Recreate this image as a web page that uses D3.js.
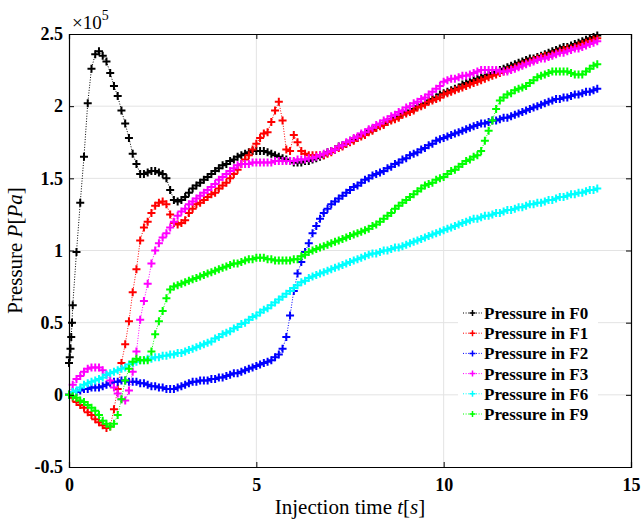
<!DOCTYPE html>
<html>
<head>
<meta charset="utf-8">
<script src="https://cdn.jsdelivr.net/npm/d3@7"></script>
<style>
  body { margin: 0; background: #fff; }
  text { font-family: "Liberation Serif", "DejaVu Serif", serif; }
</style>
</head>
<body>
<div id="chart"></div>
<script>
// sampling step of the simulation output (s)
const timeStep = 0.1;

// pressure values, units of 1e5 Pa, one value every 0.1 s from t = 0 to 14.1 s
const pressF0 = [
  0.22, 0.62, 0.99, 1.33, 1.65, 2.02, 2.26, 2.36, 2.38, 2.35,
  2.31, 2.23, 2.14, 2.07, 1.97, 1.88, 1.78, 1.67, 1.60, 1.53,
  1.53, 1.54, 1.55, 1.55, 1.54, 1.53, 1.50, 1.42, 1.35, 1.34,
  1.35, 1.37, 1.40, 1.43, 1.45, 1.47, 1.49, 1.51, 1.53, 1.55,
  1.57, 1.59, 1.60, 1.62, 1.63, 1.65, 1.66, 1.67, 1.68, 1.69,
  1.69, 1.69, 1.69, 1.68, 1.67, 1.66, 1.65, 1.64, 1.63, 1.62,
  1.61, 1.61, 1.61, 1.62, 1.62, 1.63, 1.64, 1.65, 1.66, 1.68,
  1.69, 1.70, 1.72, 1.73, 1.74, 1.76, 1.77, 1.78, 1.80, 1.81,
  1.83, 1.84, 1.85, 1.87, 1.88, 1.89, 1.91, 1.92, 1.93, 1.95,
  1.96, 1.97, 1.98, 2.00, 2.01, 2.02, 2.04, 2.05, 2.06, 2.08,
  2.09, 2.10, 2.11, 2.12, 2.13, 2.15, 2.16, 2.17, 2.18, 2.19,
  2.20, 2.21, 2.22, 2.23, 2.24, 2.25, 2.26, 2.27, 2.28, 2.29,
  2.30, 2.31, 2.32, 2.33, 2.33, 2.34, 2.35, 2.36, 2.37, 2.38,
  2.39, 2.40, 2.41, 2.41, 2.42, 2.43, 2.44, 2.45, 2.46, 2.47,
  2.48, 2.49
];
// F0 has a few extra samples right at the start [t, value]
const pressF0Start = [[0.02, 0.26], [0.04, 0.32], [0.06, 0.40], [0.08, 0.50]];

const pressF1 = [
  0.00, -0.02, -0.05, -0.07, -0.09, -0.12, -0.14, -0.17, -0.19, -0.21,
  -0.23, -0.22, -0.10, 0.04, 0.22, 0.35, 0.51, 0.71, 0.87, 1.07,
  1.16, 1.20, 1.26, 1.31, 1.33, 1.34, 1.32, 1.25, 1.19, 1.18,
  1.19, 1.21, 1.26, 1.29, 1.32, 1.33, 1.35, 1.37, 1.39, 1.40,
  1.43, 1.45, 1.47, 1.50, 1.53, 1.56, 1.60, 1.63, 1.66, 1.70,
  1.74, 1.78, 1.81, 1.82, 1.89, 1.97, 2.03, 1.90, 1.70, 1.69,
  1.80, 1.75, 1.69, 1.67, 1.66, 1.66, 1.66, 1.66, 1.66, 1.67,
  1.68, 1.70, 1.71, 1.72, 1.74, 1.75, 1.76, 1.78, 1.79, 1.80,
  1.82, 1.83, 1.85, 1.86, 1.87, 1.89, 1.90, 1.91, 1.92, 1.94,
  1.95, 1.96, 1.97, 1.99, 2.00, 2.01, 2.03, 2.04, 2.05, 2.06,
  2.08, 2.09, 2.10, 2.11, 2.12, 2.13, 2.14, 2.15, 2.16, 2.17,
  2.18, 2.19, 2.20, 2.21, 2.22, 2.23, 2.24, 2.25, 2.26, 2.27,
  2.28, 2.29, 2.30, 2.31, 2.32, 2.33, 2.34, 2.35, 2.35, 2.36,
  2.37, 2.38, 2.39, 2.40, 2.40, 2.41, 2.42, 2.43, 2.44, 2.45,
  2.46, 2.47
];

const pressF2 = [
  0.00, 0.02, 0.02, 0.03, 0.04, 0.04, 0.05, 0.05, 0.05, 0.06,
  0.07, 0.08, 0.09, 0.09, 0.10, 0.10, 0.09, 0.09, 0.09, 0.08,
  0.08, 0.07, 0.06, 0.06, 0.05, 0.05, 0.04, 0.04, 0.04, 0.05,
  0.06, 0.07, 0.08, 0.09, 0.09, 0.10, 0.10, 0.10, 0.11, 0.11,
  0.12, 0.12, 0.13, 0.14, 0.15, 0.15, 0.16, 0.17, 0.18, 0.19,
  0.20, 0.21, 0.22, 0.23, 0.24, 0.26, 0.28, 0.32, 0.40, 0.55,
  0.72, 0.84, 0.92, 0.99, 1.05, 1.12, 1.17, 1.22, 1.26, 1.29,
  1.32, 1.34, 1.36, 1.38, 1.40, 1.42, 1.44, 1.45, 1.47, 1.49,
  1.50, 1.52, 1.53, 1.54, 1.55, 1.57, 1.58, 1.60, 1.61, 1.63,
  1.64, 1.66, 1.67, 1.68, 1.70, 1.71, 1.73, 1.74, 1.76, 1.77,
  1.78, 1.79, 1.80, 1.81, 1.82, 1.83, 1.84, 1.85, 1.86, 1.87,
  1.88, 1.88, 1.89, 1.90, 1.90, 1.91, 1.92, 1.92, 1.93, 1.94,
  1.95, 1.96, 1.97, 1.98, 1.99, 2.00, 2.01, 2.02, 2.03, 2.04,
  2.05, 2.05, 2.06, 2.06, 2.07, 2.08, 2.08, 2.09, 2.10, 2.10,
  2.11, 2.12
];

const pressF3 = [
  0.00, 0.07, 0.11, 0.13, 0.16, 0.18, 0.19, 0.19, 0.19, 0.17,
  0.14, 0.10, 0.05, 0.01, -0.03, -0.04, 0.03, 0.16, 0.30, 0.52,
  0.65, 0.77, 0.91, 1.00, 1.05, 1.09, 1.12, 1.16, 1.20, 1.24,
  1.27, 1.29, 1.32, 1.34, 1.36, 1.38, 1.40, 1.42, 1.44, 1.46,
  1.49, 1.51, 1.53, 1.55, 1.57, 1.59, 1.60, 1.60, 1.60, 1.61,
  1.61, 1.61, 1.61, 1.61, 1.61, 1.62, 1.62, 1.62, 1.62, 1.62,
  1.62, 1.63, 1.63, 1.63, 1.64, 1.64, 1.65, 1.66, 1.67, 1.68,
  1.69, 1.70, 1.72, 1.73, 1.75, 1.76, 1.78, 1.79, 1.81, 1.82,
  1.84, 1.85, 1.87, 1.88, 1.90, 1.91, 1.93, 1.94, 1.96, 1.97,
  1.99, 2.00, 2.02, 2.03, 2.05, 2.06, 2.08, 2.10, 2.12, 2.14,
  2.17, 2.18, 2.19, 2.19, 2.20, 2.21, 2.21, 2.22, 2.23, 2.24,
  2.25, 2.25, 2.25, 2.25, 2.25, 2.24, 2.24, 2.24, 2.25, 2.26,
  2.27, 2.28, 2.29, 2.30, 2.31, 2.32, 2.33, 2.33, 2.34, 2.35,
  2.36, 2.37, 2.37, 2.38, 2.39, 2.40, 2.40, 2.41, 2.42, 2.43,
  2.44, 2.45
];

const pressF6 = [
  0.00, 0.02, 0.03, 0.05, 0.07, 0.08, 0.09, 0.10, 0.11, 0.12,
  0.14, 0.15, 0.16, 0.17, 0.18, 0.19, 0.21, 0.22, 0.23, 0.24,
  0.24, 0.25, 0.25, 0.26, 0.26, 0.27, 0.27, 0.28, 0.28, 0.29,
  0.29, 0.30, 0.31, 0.32, 0.33, 0.34, 0.35, 0.36, 0.37, 0.39,
  0.40, 0.42, 0.43, 0.44, 0.46, 0.47, 0.49, 0.50, 0.52, 0.54,
  0.55, 0.57, 0.59, 0.60, 0.62, 0.64, 0.66, 0.68, 0.70, 0.72,
  0.74, 0.76, 0.78, 0.79, 0.81, 0.82, 0.83, 0.84, 0.85, 0.86,
  0.87, 0.88, 0.89, 0.90, 0.91, 0.92, 0.93, 0.94, 0.95, 0.96,
  0.97, 0.98, 0.98, 0.99, 1.00, 1.00, 1.01, 1.02, 1.02, 1.03,
  1.04, 1.05, 1.06, 1.07, 1.08, 1.09, 1.10, 1.11, 1.12, 1.13,
  1.14, 1.15, 1.16, 1.17, 1.18, 1.19, 1.20, 1.21, 1.22, 1.22,
  1.23, 1.24, 1.24, 1.25, 1.26, 1.26, 1.27, 1.28, 1.28, 1.29,
  1.30, 1.30, 1.31, 1.32, 1.32, 1.33, 1.33, 1.34, 1.35, 1.35,
  1.36, 1.37, 1.37, 1.38, 1.39, 1.39, 1.40, 1.40, 1.41, 1.42,
  1.42, 1.43
];

const pressF9 = [
  0.00, -0.01, -0.02, -0.04, -0.05, -0.07, -0.09, -0.11, -0.14, -0.18,
  -0.20, -0.22, -0.20, -0.14, -0.03, 0.10, 0.18, 0.23, 0.25, 0.24,
  0.24, 0.24, 0.30, 0.42, 0.51, 0.58, 0.67, 0.73, 0.75, 0.76,
  0.77, 0.78, 0.79, 0.80, 0.81, 0.82, 0.83, 0.84, 0.85, 0.86,
  0.87, 0.88, 0.89, 0.90, 0.91, 0.91, 0.92, 0.93, 0.94, 0.94,
  0.95, 0.95, 0.95, 0.94, 0.94, 0.93, 0.93, 0.93, 0.93, 0.93,
  0.94, 0.94, 0.96, 0.97, 0.99, 1.00, 1.01, 1.02, 1.03, 1.04,
  1.05, 1.06, 1.07, 1.08, 1.09, 1.10, 1.11, 1.12, 1.13, 1.14,
  1.15, 1.17, 1.18, 1.20, 1.22, 1.24, 1.26, 1.29, 1.31, 1.33,
  1.35, 1.37, 1.39, 1.41, 1.43, 1.45, 1.46, 1.47, 1.49, 1.50,
  1.51, 1.53, 1.55, 1.56, 1.58, 1.60, 1.62, 1.63, 1.65, 1.66,
  1.69, 1.76, 1.83, 1.90, 1.98, 2.04, 2.06, 2.08, 2.09, 2.11,
  2.12, 2.13, 2.14, 2.16, 2.18, 2.20, 2.21, 2.22, 2.23, 2.24,
  2.24, 2.24, 2.24, 2.24, 2.23, 2.22, 2.22, 2.22, 2.24, 2.26,
  2.28, 2.29
];

const seriesNames = ["Pressure in F0", "Pressure in F1", "Pressure in F2", "Pressure in F3", "Pressure in F6", "Pressure in F9"];
const seriesColors = ["#000000", "#ff0000", "#0000ff", "#ff00ff", "#00ffff", "#00ff00"];
const xTicks = [0, 5, 10, 15];
const yTicks = [-0.5, 0, 0.5, 1, 1.5, 2, 2.5];

const width = 643, height = 520;
const margin = {top: 34, right: 12, bottom: 53, left: 69};
const serif = "Liberation Serif, DejaVu Serif, serif";

// build [t, value] lists
function toPoints(values) {
  return values.map((v, i) => [+(i * timeStep).toFixed(2), v]);
}
const f0 = toPoints(pressF0);
f0.splice(1, 0, ...pressF0Start);
const allSeries = [f0, toPoints(pressF1), toPoints(pressF2), toPoints(pressF3), toPoints(pressF6), toPoints(pressF9)];

const svg = d3.select("#chart").append("svg")
  .attr("width", width)
  .attr("height", height)
  .attr("font-family", serif)
  .style("background", "#fff");

const x = d3.scaleLinear().domain([0, 15]).range([margin.left, width - margin.right]);
const y = d3.scaleLinear().domain([-0.5, 2.5]).range([height - margin.bottom, margin.top]);

// grid
const grid = svg.append("g").attr("stroke", "#e3e3e3").attr("stroke-width", 1);
grid.selectAll(".gx").data(xTicks.slice(1, -1)).join("line")
  .attr("x1", d => x(d)).attr("x2", d => x(d))
  .attr("y1", y(-0.5)).attr("y2", y(2.5));
grid.selectAll(".gy").data(yTicks.slice(1, -1)).join("line")
  .attr("y1", d => y(d)).attr("y2", d => y(d))
  .attr("x1", x(0)).attr("x2", x(15));

// curves: dotted line + "+" markers
const line = d3.line().x(d => x(d[0])).y(d => y(d[1]));
const plus = "M-4,0H4M0,-4V4";

allSeries.forEach((pts, k) => {
  const g = svg.append("g");
  g.append("path")
    .attr("d", line(pts))
    .attr("fill", "none")
    .attr("stroke", seriesColors[k])
    .attr("stroke-width", 1)
    .attr("stroke-dasharray", "1,1.6");
  g.selectAll("path.m").data(pts).join("path")
    .attr("class", "m")
    .attr("transform", d => `translate(${x(d[0])},${y(d[1])})`)
    .attr("d", plus)
    .attr("stroke", seriesColors[k])
    .attr("stroke-width", 2);
});

// axes, ticks pointing inwards
const axisFont = g => g.attr("font-family", serif).selectAll("text")
  .attr("font-weight", "bold")
  .attr("font-size", 18)
  .attr("fill", "#000");

svg.append("g")
  .attr("transform", `translate(0,${y(-0.5)})`)
  .call(d3.axisBottom(x).tickValues(xTicks).tickSize(-5).tickPadding(11).tickFormat(d3.format("d")))
  .call(axisFont);
svg.append("g")
  .attr("transform", `translate(${x(0)},0)`)
  .call(d3.axisLeft(y).tickValues(yTicks).tickSize(-5).tickPadding(6).tickFormat(d => d))
  .call(axisFont);
svg.append("g")
  .attr("transform", `translate(0,${y(2.5)})`)
  .call(d3.axisTop(x).tickValues(xTicks).tickSize(-5).tickFormat(""));
svg.append("g")
  .attr("transform", `translate(${x(15)},0)`)
  .call(d3.axisRight(y).tickValues(yTicks).tickSize(-5).tickFormat(""));
svg.selectAll(".domain").attr("stroke", "#000").attr("stroke-width", 1.2);
svg.selectAll(".tick line").attr("stroke", "#000").attr("stroke-width", 1);

// exponent label
const expo = svg.append("text")
  .attr("x", x(0) + 3)
  .attr("y", 29)
  .attr("font-size", 19)
  .text("×10");
expo.append("tspan").attr("dy", -9).attr("font-size", 14).text("5");

// axis titles
const xTitle = svg.append("text")
  .attr("x", (x(0) + x(15)) / 2)
  .attr("y", 514)
  .attr("text-anchor", "middle")
  .attr("font-size", 21);
xTitle.append("tspan").text("Injection time ");
xTitle.append("tspan").attr("font-style", "italic").text("t");
xTitle.append("tspan").text("[");
xTitle.append("tspan").attr("font-style", "italic").text("s");
xTitle.append("tspan").text("]");

const yTitle = svg.append("text")
  .attr("transform", `translate(22,${(y(-0.5) + y(2.5)) / 2}) rotate(-90)`)
  .attr("text-anchor", "middle")
  .attr("font-size", 21);
yTitle.append("tspan").text("Pressure ");
yTitle.append("tspan").attr("font-style", "italic").text("P");
yTitle.append("tspan").text("[");
yTitle.append("tspan").attr("font-style", "italic").text("Pa");
yTitle.append("tspan").text("]");

// legend
const leg = svg.append("g");
leg.append("rect")
  .attr("x", 458).attr("y", 302)
  .attr("width", 140).attr("height", 123)
  .attr("fill", "#fff");
const rows = leg.selectAll("g.row").data(seriesNames).join("g")
  .attr("class", "row")
  .attr("transform", (d, i) => `translate(463,${313 + i * 20.2})`);
rows.append("line")
  .attr("x1", 0).attr("x2", 19)
  .attr("stroke", (d, i) => seriesColors[i])
  .attr("stroke-width", 1)
  .attr("stroke-dasharray", "1,1.6");
rows.append("path")
  .attr("transform", "translate(9.5,0)")
  .attr("d", "M-3,0H3M0,-3V3")
  .attr("stroke", (d, i) => seriesColors[i])
  .attr("stroke-width", 1.5);
rows.append("text")
  .attr("x", 21)
  .attr("dy", "0.35em")
  .attr("font-size", 17)
  .attr("font-weight", "bold")
  .text(d => d);
</script>
</body>
</html>
